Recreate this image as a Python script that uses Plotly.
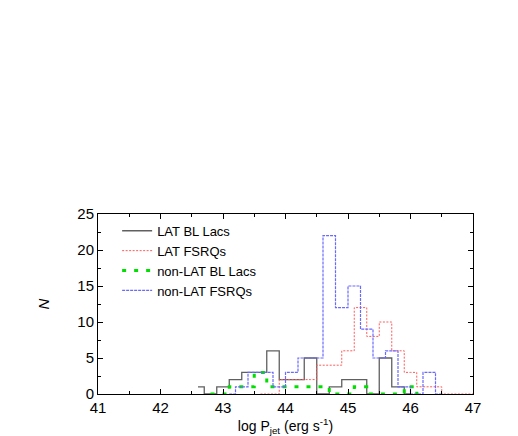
import plotly.graph_objects as go

# LAT BL Lacs (bin centres, counts)
bll_x = [42.6, 42.8, 43.0, 43.2, 43.4, 43.6, 43.8, 44.0, 44.2, 44.4, 44.6, 44.8, 45.0, 45.2, 45.4, 45.6, 45.8, 46.0]
bll_n = [1, 0, 1, 2, 3, 3, 6, 2, 2, 5, 0, 1, 2, 2, 0, 5, 1, 0]

# LAT FSRQs
fsrq_x = [43.6, 43.8, 44.0, 44.2, 44.4, 44.6, 44.8, 45.0, 45.2, 45.4, 45.6, 45.8, 46.0, 46.2, 46.4, 46.6, 46.8, 47.0]
fsrq_n = [0, 0, 2, 2, 2, 4, 4, 6, 12, 8, 10, 6, 3, 1, 1, 0, 0, 0]

# non-LAT BL Lacs
nbll_x = [42.8, 43.0, 43.2, 43.4, 43.6, 43.8, 44.0, 44.2, 44.4, 44.6, 44.8, 45.0, 45.2, 45.4, 45.6, 45.8, 46.0, 46.2]
nbll_n = [0, 0, 1, 1, 3, 1, 1, 1, 1, 1, 0, 0, 1, 0, 0, 0, 1, 0]

# non-LAT FSRQs
nfsrq_x = [43.1, 43.3, 43.5, 43.7, 43.9, 44.1, 44.3, 44.5, 44.7, 44.9, 45.1, 45.3, 45.5, 45.7, 45.9, 46.1, 46.3, 46.5]
nfsrq_n = [0, 1, 3, 3, 1, 3, 5, 5, 22, 12, 15, 9, 5, 6, 1, 0, 3, 0]

x_ticks = [41, 42, 43, 44, 45, 46, 47]
y_ticks = [0, 5, 10, 15, 20, 25]

fig = go.Figure()
fig.add_trace(go.Scatter(x=bll_x, y=bll_n, mode="lines", line_shape="hvh",
                         name="LAT BL Lacs", line=dict(color="#606060", width=1.3)))
fig.add_trace(go.Scatter(x=fsrq_x, y=fsrq_n, mode="lines", line_shape="hvh",
                         name="LAT FSRQs", line=dict(color="#ff5a5a", width=1, dash="2px,1.5px")))
fig.add_trace(go.Scatter(x=nbll_x, y=nbll_n, mode="lines", line_shape="hvh",
                         name="non-LAT BL Lacs", line=dict(color="#00e000", width=3, dash="4px,8px")))
fig.add_trace(go.Scatter(x=nfsrq_x, y=nfsrq_n, mode="lines", line_shape="hvh",
                         name="non-LAT FSRQs", line=dict(color="#6a6aff", width=1.2, dash="3px,1px")))

font = "Liberation Sans, Arial, sans-serif"
fig.update_layout(
    width=518, height=436,
    margin=dict(l=90, r=53, t=206, b=50),
    paper_bgcolor="white", plot_bgcolor="white",
    font=dict(family=font, size=14, color="black"),
    showlegend=True,
    legend=dict(x=0.051, y=0.99, xanchor="left", yanchor="top",
                bgcolor="rgba(0,0,0,0)", font=dict(size=13), tracegroupgap=0,
                itemwidth=30),
)
fig.update_xaxes(
    range=[41, 47], tickvals=x_ticks, ticktext=[str(v) for v in x_ticks],
    ticks="inside", ticklen=5, tickcolor="black", linecolor="black", linewidth=1,
    mirror="ticks", showgrid=False, zeroline=False,
    tickfont=dict(size=15),
    minor=dict(dtick=0.5, ticks="inside", ticklen=3, tickcolor="black"),
    title=dict(text="log P<sub>jet</sub> (erg s<sup>-1</sup>)", font=dict(size=14), standoff=0),
)
fig.update_yaxes(
    range=[0, 25], tickvals=y_ticks, ticktext=[str(v) for v in y_ticks],
    ticks="inside", ticklen=5, tickcolor="black", linecolor="black", linewidth=1,
    mirror="ticks", showgrid=False, zeroline=False,
    tickfont=dict(size=15),
    minor=dict(dtick=2.5, ticks="inside", ticklen=3, tickcolor="black"),
    title=dict(text="<i>N</i>", font=dict(size=15), standoff=24),
)
fig.write_html("out.html")
